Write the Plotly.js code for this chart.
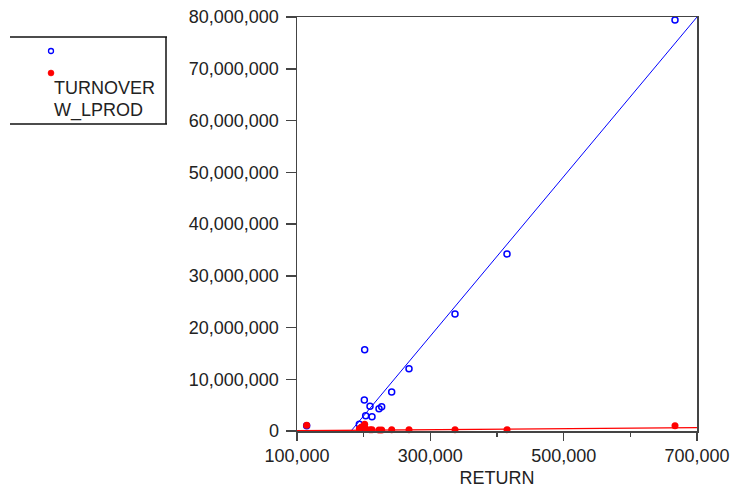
<!DOCTYPE html>
<html>
<head>
<meta charset="utf-8">
<script src="https://cdn.plot.ly/plotly-3.0.1.min.js"></script>
<style>html,body{margin:0;padding:0;background:#fff;}#chart{width:733px;height:489px;}</style>
</head>
<body>
<div id="chart"></div>
<script>
// RETURN (x) shared by both series
const returnValues = [114500, 193500, 197000, 201000, 201500, 203000, 209500, 212500, 223000, 227000, 242000, 268000, 337000, 415000, 667000];
// blue open circles
const turnoverValues = [1000000, 1290000, 700000, 5990000, 15710000, 2960000, 4770000, 2760000, 4310000, 4700000, 7540000, 12040000, 22600000, 34200000, 79400000];
// red filled dots
const wLprodValues = [1100000, 440000, 770000, 770000, 1290000, 390000, 250000, 250000, 200000, 200000, 250000, 250000, 250000, 250000, 1020000];
// fitted lines: y = intercept + slope * x
const turnoverFit = [-27900000, 154.14];   // [intercept, slope]
const wLprodFit = [-50000, 1.0];          // [intercept, slope]
const fitRange = [100000, 700000];
const legendLabels = ["TURNOVER", "W_LPROD"];
const xTickVals = [100000, 300000, 500000, 700000];

const fitLine = (c) => fitRange.map(x => c[0] + c[1] * x);

const font = {family: 'Liberation Sans, Arial, sans-serif', size: 18, color: '#222'};

const traces = [
  {x: fitRange, y: fitLine(turnoverFit), mode: 'lines', line: {color: '#0000ff', width: 1}, hoverinfo: 'skip'},
  {x: fitRange, y: fitLine(wLprodFit), mode: 'lines', line: {color: '#ff0000', width: 1.3}, hoverinfo: 'skip'},
  {x: returnValues, y: turnoverValues, mode: 'markers', cliponaxis: false,
   marker: {symbol: 'circle-open', size: 6, color: '#0000ff', line: {width: 1.5, color: '#0000ff'}}},
  {x: returnValues, y: wLprodValues, mode: 'markers', cliponaxis: false,
   marker: {symbol: 'circle', size: 7, color: '#ff0000'}}
];

// plot area in pixels
const L = 297, R = 697, T = 17, B = 431;
const px = (x) => (x - L) / (R - L);
const py = (y) => (B - y) / (B - T);

const shapes = [
  {type: 'line', xref: 'paper', yref: 'paper', x0: px(10), x1: px(167), y0: py(37), y1: py(37), line: {color: '#111', width: 1.5}},
  {type: 'line', xref: 'paper', yref: 'paper', x0: px(10), x1: px(167), y0: py(124), y1: py(124), line: {color: '#111', width: 1.5}},
  {type: 'line', xref: 'paper', yref: 'paper', x0: px(166), x1: px(166), y0: py(37), y1: py(124), line: {color: '#111', width: 1.5}},
  {type: 'circle', xref: 'paper', yref: 'paper', xsizemode: 'pixel', ysizemode: 'pixel',
   xanchor: px(51), yanchor: py(51), x0: -2.5, x1: 2.5, y0: -2.5, y1: 2.5, line: {color: '#0000ff', width: 1.3}, fillcolor: 'rgba(0,0,0,0)'},
  {type: 'circle', xref: 'paper', yref: 'paper', xsizemode: 'pixel', ysizemode: 'pixel',
   xanchor: px(51), yanchor: py(73), x0: -3, x1: 3, y0: -3, y1: 3, line: {color: '#ff0000', width: 0.5}, fillcolor: '#ff0000'}
];

const annotations = [
  {xref: 'paper', yref: 'paper', x: px(52), y: py(88), xanchor: 'left', yanchor: 'middle', showarrow: false, text: legendLabels[0], font: font},
  {xref: 'paper', yref: 'paper', x: px(52), y: py(110), xanchor: 'left', yanchor: 'middle', showarrow: false, text: legendLabels[1], font: font}
];

const layout = {
  width: 733, height: 489,
  margin: {l: L, r: 733 - R, t: T, b: 489 - B},
  paper_bgcolor: '#fff', plot_bgcolor: '#fff',
  showlegend: false,
  font: font,
  xaxis: {
    range: [100000, 700000], tickmode: 'array', tickvals: xTickVals, tickformat: ',d',
    ticks: 'outside', ticklen: 8, tickwidth: 1.5, tickcolor: '#444',
    minor: {dtick: 100000, tick0: 0, ticks: 'outside', ticklen: 4, tickwidth: 1.5, tickcolor: '#444'},
    showline: true, linecolor: '#444', linewidth: 1.5, mirror: true,
    showgrid: false, zeroline: false, tickfont: font,
    title: {text: 'RETURN', font: font, standoff: 6}
  },
  yaxis: {
    range: [0, 80000000], dtick: 10000000, tick0: 0, tickformat: ',d',
    ticks: 'outside', ticklen: 10, tickwidth: 1.5, tickcolor: '#444', ticklabelstandoff: 3,
    showline: true, linecolor: '#444', linewidth: 1.5, mirror: true,
    showgrid: false, zeroline: false, tickfont: font
  },
  shapes: shapes,
  annotations: annotations
};

Plotly.newPlot('chart', traces, layout, {displayModeBar: false, staticPlot: true});
</script>
</body>
</html>
